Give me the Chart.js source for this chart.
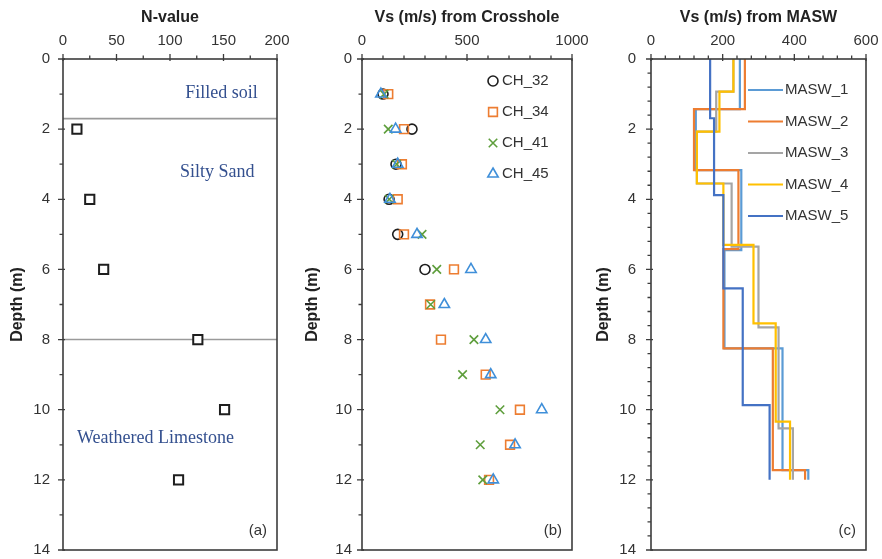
<!DOCTYPE html>
<html>
<head>
<meta charset="utf-8">
<script src="https://cdn.jsdelivr.net/npm/chart.js@4"></script>
<style>
  body { margin: 0; background: #fff; }
  canvas { position: absolute; top: 0; }
</style>
</head>
<body>
<canvas id="chartN" width="292" height="559" style="left:0"></canvas>
<canvas id="chartCH" width="298" height="559" style="left:292px"></canvas>
<canvas id="chartMASW" width="292" height="559" style="left:590px"></canvas>
<script>
// ====== DATA ======
// (a) SPT N-value
const nDepths = [2, 4, 6, 8, 10, 12];
const nValues = [13, 25, 38, 126, 151, 108];
const layerBoundaries = [1.7, 8];

// (b) Vs from crosshole, one value per metre
const chDepths = [1, 2, 3, 4, 5, 6, 7, 8, 9, 10, 11, 12];
const ch32 = [100, 238, 162, 129, 170, 300];
const ch34 = [125, 200, 190, 170, 200, 438, 324, 376, 589, 752, 705, 605];
const ch41 = [105, 125, 165, 130, 286, 356, 327, 533, 479, 657, 563, 575];
const ch45 = [90, 160, 170, 133, 262, 519, 392, 589, 613, 856, 729, 625];

// (c) Vs from MASW: layer velocity and layer bottom depth
const masw1Vs = [248, 125, 252, 205, 367, 439];
const masw1Bottom = [1.43, 3.17, 5.45, 8.25, 11.72, 12];
const masw2Vs = [262, 120, 244, 202, 340, 430];
const masw2Bottom = [1.43, 3.17, 5.42, 8.25, 11.72, 12];
const masw3Vs = [230, 182, 128, 225, 300, 356, 396];
const masw3Bottom = [0.93, 2.07, 3.55, 5.35, 7.65, 10.53, 12];
const masw4Vs = [230, 191, 128, 202, 286, 348, 388];
const masw4Bottom = [0.93, 2.07, 3.55, 5.3, 7.54, 10.34, 12];
const masw5Vs = [165, 176, 202, 256, 331];
const masw5Bottom = [1.69, 3.88, 6.54, 9.87, 12];

const depthTicks = { min: 0, max: 14, step: 2 };

// ====== HELPERS ======
Chart.defaults.font.family = "'Liberation Sans', Arial, sans-serif";
Chart.defaults.color = '#333';

function toPoints(xs, ys) {
    return xs.map((v, i) => ({ x: v, y: ys[i] }));
}

function stepProfile(vs, bottoms) {
    const pts = [];
    let top = 0;
    vs.forEach((v, i) => {
        pts.push({ x: v, y: top });
        pts.push({ x: v, y: bottoms[i] });
        top = bottoms[i];
    });
    return pts;
}

function drawMarker(ctx, style, x, y, r) {
    ctx.beginPath();
    if (style === 'circle') {
        ctx.arc(x, y, r, 0, Math.PI * 2);
    } else if (style === 'rect') {
        const s = r * Math.SQRT1_2;
        ctx.rect(x - s, y - s, 2 * s, 2 * s);
    } else if (style === 'crossRot') {
        const s = r * Math.SQRT1_2;
        ctx.moveTo(x - s, y - s); ctx.lineTo(x + s, y + s);
        ctx.moveTo(x - s, y + s); ctx.lineTo(x + s, y - s);
    } else if (style === 'triangle') {
        ctx.moveTo(x, y - r);
        ctx.lineTo(x + 0.866 * r, y + 0.5 * r);
        ctx.lineTo(x - 0.866 * r, y + 0.5 * r);
        ctx.closePath();
    }
    ctx.stroke();
}

// box around the plot + major/minor tick marks
const axisFrame = {
    id: 'axisFrame',
    afterDatasetsDraw(chart, args, o) {
        const { ctx, chartArea: a, scales: { x, y } } = chart;
        ctx.save();
        ctx.strokeStyle = '#3c3c3c';
        ctx.lineWidth = 1.6;
        ctx.strokeRect(a.left, a.top, a.right - a.left, a.bottom - a.top);
        ctx.lineWidth = 1.3;
        ctx.beginPath();
        const nx = Math.round((x.max - x.min) / o.xMinor);
        for (let i = 0; i <= nx; i++) {
            const v = x.min + i * o.xMinor;
            const major = Math.abs(v / o.xMajor - Math.round(v / o.xMajor)) < 1e-6;
            const px = x.getPixelForValue(v);
            ctx.moveTo(px, a.top - (major ? 5 : 3.5));
            ctx.lineTo(px, a.top + (major ? 2 : 0));
        }
        const ny = Math.round((y.max - y.min) / o.yMinor);
        for (let i = 0; i <= ny; i++) {
            const v = y.min + i * o.yMinor;
            const major = Math.abs(v / o.yMajor - Math.round(v / o.yMajor)) < 1e-6;
            const py = y.getPixelForValue(v);
            ctx.moveTo(a.left - (major ? 5 : 3.5), py);
            ctx.lineTo(a.left + (major ? 2 : 0), py);
        }
        ctx.stroke();

        // panel tag, e.g. "(a)"
        ctx.fillStyle = '#333';
        ctx.font = "15px 'Liberation Sans', Arial";
        ctx.textAlign = 'right';
        ctx.textBaseline = 'middle';
        ctx.fillText(o.tag, a.right - 10, a.bottom - 19);

        // free text notes placed in data units
        (o.notes || []).forEach(n => {
            ctx.fillStyle = n.color;
            ctx.font = n.font;
            ctx.textAlign = n.align;
            ctx.fillText(n.text, x.getPixelForValue(n.x), y.getPixelForValue(n.y));
        });

        // legend inside the plot area
        if (o.legend) {
            const L = o.legend;
            ctx.font = "15px 'Liberation Sans', Arial";
            ctx.textAlign = 'left';
            chart.data.datasets.filter(d => d.label).forEach((d, i) => {
                const cy = a.top + L.top + i * L.gap;
                const cx = a.left + L.left;
                ctx.strokeStyle = d.borderColor;
                if (L.type === 'line') {
                    ctx.lineWidth = 2.2;
                    ctx.beginPath();
                    ctx.moveTo(cx, cy);
                    ctx.lineTo(cx + L.lineLen, cy);
                    ctx.stroke();
                    ctx.fillStyle = '#333';
                    ctx.fillText(d.label, cx + L.lineLen + 2, cy);
                } else {
                    ctx.lineWidth = d.borderWidth;
                    drawMarker(ctx, d.pointStyle, cx, cy, d.pointRadius);
                    ctx.fillStyle = '#333';
                    ctx.fillText(d.label, cx + 9, cy);
                }
            });
        }
        ctx.restore();
    }
};

// invisible grid ticks only used as spacing between axis and labels
function spacer(len) {
    return { display: true, drawOnChartArea: false, drawTicks: true, tickLength: len, color: 'rgba(0,0,0,0)' };
}

function makeScales(xTitle, xMax, xStep, yAxisWidth, yTitlePad, yTickPad) {
    return {
        x: {
            type: 'linear', position: 'top', min: 0, max: xMax,
            grid: spacer(9),
            border: { display: false },
            ticks: { stepSize: xStep, padding: 0, font: { size: 15 }, color: '#333', callback: v => v },
            title: { display: true, text: xTitle, color: '#222', font: { size: 16, weight: 'bold' }, padding: { top: 8, bottom: 0 } },
            afterFit: s => { s.height = 59; }
        },
        y: {
            type: 'linear', reverse: true, min: depthTicks.min, max: depthTicks.max,
            grid: spacer(yTickPad),
            border: { display: false },
            ticks: { stepSize: depthTicks.step, padding: 0, font: { size: 15 }, color: '#333', callback: v => v },
            title: { display: true, text: 'Depth (m)', color: '#222', font: { size: 16, weight: 'bold' }, padding: { top: yTitlePad, bottom: 0 } },
            afterFit: s => { s.width = yAxisWidth; }
        }
    };
}

const baseOptions = {
    responsive: false,
    animation: false,
    events: []
};

// ====== (a) N-VALUE ======
const layerDatasets = layerBoundaries.map(d => ({
    data: [{ x: 0, y: d }, { x: 200, y: d }],
    showLine: true, borderColor: '#9a9a9a', borderWidth: 1.6, pointRadius: 0, order: 0
}));

new Chart(document.getElementById('chartN'), {
    type: 'scatter',
    data: {
        datasets: [{
            data: toPoints(nValues, nDepths),
            pointStyle: 'rect', pointRadius: 6.5, borderWidth: 2,
            borderColor: '#1e1e1e', backgroundColor: '#fff', order: -1
        }, ...layerDatasets]
    },
    options: {
        ...baseOptions,
        layout: { padding: { left: 0, right: 15, top: 0, bottom: 9 } },
        scales: makeScales('N-value', 200, 50, 63, 8, 13),
        plugins: {
            legend: { display: false }, tooltip: { enabled: false },
            axisFrame: {
                xMinor: 25, xMajor: 50, yMinor: 1, yMajor: 2, tag: '(a)',
                notes: [
                    { text: 'Filled soil', x: 182, y: 0.97, align: 'right', color: '#34508f', font: "18px 'Liberation Serif', serif" },
                    { text: 'Silty Sand', x: 179, y: 3.22, align: 'right', color: '#34508f', font: "18px 'Liberation Serif', serif" },
                    { text: 'Weathered Limestone', x: 13, y: 10.8, align: 'left', color: '#34508f', font: "18px 'Liberation Serif', serif" }
                ]
            }
        }
    },
    plugins: [axisFrame]
});

// ====== (b) CROSSHOLE ======
const chSeries = [
    { label: 'CH_32', values: ch32, color: '#1e1e1e', style: 'circle', r: 5 },
    { label: 'CH_34', values: ch34, color: '#ed7d31', style: 'rect', r: 6.2 },
    { label: 'CH_41', values: ch41, color: '#5e9e3c', style: 'crossRot', r: 6 },
    { label: 'CH_45', values: ch45, color: '#3f8fd9', style: 'triangle', r: 6 }
];

new Chart(document.getElementById('chartCH'), {
    type: 'scatter',
    data: {
        datasets: chSeries.map((s, i) => ({
            label: s.label,
            data: toPoints(s.values, chDepths),
            pointStyle: s.style, pointRadius: s.r, borderWidth: 1.6,
            borderColor: s.color, backgroundColor: 'rgba(0,0,0,0)', order: -i
        }))
    },
    options: {
        ...baseOptions,
        layout: { padding: { left: 0, right: 18, top: 0, bottom: 9 } },
        scales: makeScales('Vs (m/s) from Crosshole', 1000, 500, 70, 11, 10),
        plugins: {
            legend: { display: false }, tooltip: { enabled: false },
            axisFrame: {
                xMinor: 100, xMajor: 500, yMinor: 1, yMajor: 2, tag: '(b)',
                legend: { type: 'marker', left: 131, top: 22, gap: 31 }
            }
        }
    },
    plugins: [axisFrame]
});

// ====== (c) MASW ======
const maswSeries = [
    { label: 'MASW_1', vs: masw1Vs, bottom: masw1Bottom, color: '#5b9bd5' },
    { label: 'MASW_2', vs: masw2Vs, bottom: masw2Bottom, color: '#ed7d31' },
    { label: 'MASW_3', vs: masw3Vs, bottom: masw3Bottom, color: '#a5a5a5' },
    { label: 'MASW_4', vs: masw4Vs, bottom: masw4Bottom, color: '#ffc000' },
    { label: 'MASW_5', vs: masw5Vs, bottom: masw5Bottom, color: '#4472c4' }
];

new Chart(document.getElementById('chartMASW'), {
    type: 'scatter',
    data: {
        datasets: maswSeries.map((s, i) => ({
            label: s.label,
            data: stepProfile(s.vs, s.bottom),
            showLine: true, borderColor: s.color, borderWidth: 2.2,
            pointRadius: 0, order: -i
        }))
    },
    options: {
        ...baseOptions,
        layout: { padding: { left: 0, right: 16, top: 0, bottom: 9 } },
        scales: makeScales('Vs (m/s) from MASW', 600, 200, 61, 4, 15),
        plugins: {
            legend: { display: false }, tooltip: { enabled: false },
            axisFrame: {
                xMinor: 40, xMajor: 200, yMinor: 0.4, yMajor: 2, tag: '(c)',
                legend: { type: 'line', left: 97, top: 31, gap: 31.5, lineLen: 35 }
            }
        }
    },
    plugins: [axisFrame]
});
</script>
</body>
</html>
